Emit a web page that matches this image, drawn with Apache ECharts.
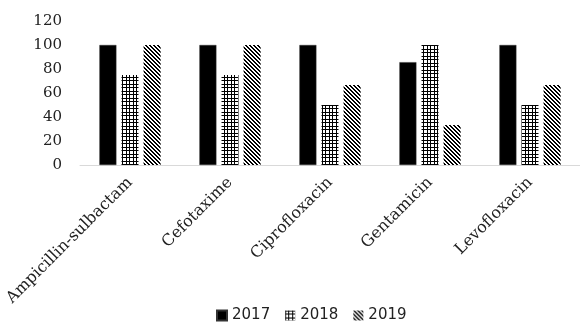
<!DOCTYPE html>
<html>
<head>
<meta charset="utf-8">
<script src="https://cdn.jsdelivr.net/npm/echarts@6/dist/echarts.min.js"></script>
<style>
  html, body { margin: 0; padding: 0; background: #fff; }
  #chart { width: 580px; height: 323px; }
</style>
</head>
<body>
<div id="chart"></div>
<script>
var categories = ['Ampicillin-sulbactam', 'Cefotaxime', 'Ciprofloxacin', 'Gentamicin', 'Levofloxacin'];
var years = ['2017', '2018', '2019'];
var values2017 = [100, 100, 100, 85.7, 100];
var values2018 = [75, 75, 50, 100, 50];
var values2019 = [100, 100, 66.7, 33.3, 66.7];

// hatch fills
function gridTile(){
	var c = document.createElement('canvas');
	c.width = 7; c.height = 7;
	var ctx = c.getContext('2d');
	ctx.fillStyle = '#fff';
	ctx.fillRect(0, 0, 7, 7);
	ctx.fillStyle = '#000';
	ctx.fillRect(0, 0, 7, 1);
	ctx.fillRect(0, 3, 7, 1);
	ctx.fillRect(0, 0, 1, 7);
	ctx.fillRect(3, 0, 1, 7);
	return c;
}
function diagTile(){
	var c = document.createElement('canvas');
	c.width = 4; c.height = 4;
	var ctx = c.getContext('2d');
	ctx.fillStyle = '#fff';
	ctx.fillRect(0, 0, 4, 4);
	ctx.fillStyle = '#000';
	for (var i = 0; i < 4; i++) {
		ctx.fillRect(i, i, 1, 1);
		ctx.fillRect((i + 1) % 4, i, 1, 1);
	}
	return c;
}

var fills = ['#000', {image: gridTile(), repeat: 'repeat'}, {image: diagTile(), repeat: 'repeat'}];
var seriesData = [values2017, values2018, values2019];

var series = [];
for (var i = 0; i < years.length; i++) {
	series.push({
		name: years[i],
		type: 'bar',
		barWidth: 17,
		barGap: '30%',
		data: seriesData[i],
		itemStyle: {color: fills[i], borderColor: '#333', borderWidth: i == 0 ? 0.5 : 0},
		emphasis: {disabled: true}
	});
}

var mychart = echarts.init(document.getElementById('chart'));
var option = {
	animation: false,
	textStyle: {fontFamily: 'DejaVu Serif'},
	grid: {left: 80, right: 0, top: 21, bottom: 158},
	legend: {
		top: 308,
		left: 216,
		padding: 0,
		itemWidth: 10,
		itemHeight: 10,
		itemGap: 15,
		icon: 'rect',
		textStyle: {fontSize: 15, color: '#222', fontFamily: 'DejaVu Sans'},
		data: years
	},
	xAxis: {
		type: 'category',
		data: categories,
		axisLine: {lineStyle: {color: '#d9d9d9', width: 1}},
		axisTick: {show: false},
		axisLabel: {rotate: 45, fontSize: 16, color: '#222', interval: 0, margin: 15}
	},
	yAxis: {
		type: 'value',
		min: 0,
		max: 120,
		interval: 20,
		splitLine: {show: false},
		axisLine: {show: false},
		axisTick: {show: false},
		axisLabel: {fontSize: 15, color: '#222', margin: 18}
	},
	series: series
};
mychart.setOption(option);
</script>
</body>
</html>
